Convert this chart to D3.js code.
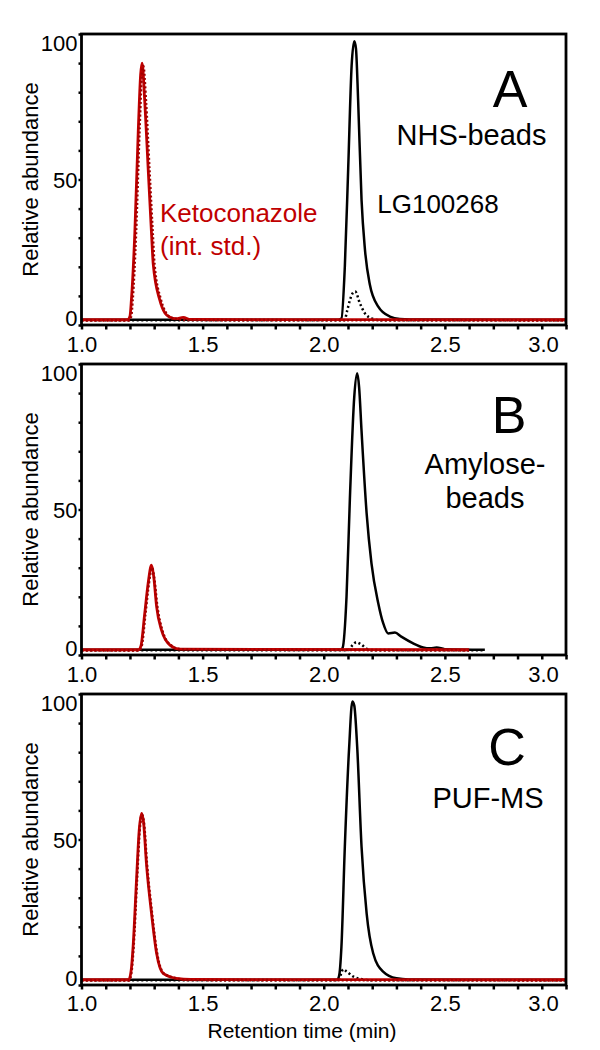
<!DOCTYPE html>
<html><head><meta charset="utf-8">
<script src="https://cdn.jsdelivr.net/npm/d3@7"></script>
<style>body{margin:0;background:#fff}text{font-family:Arial,"Liberation Sans",sans-serif}</style>
</head><body>
<script>
// ---------- data ----------
const xMinorTicks = d3.range(0, 21).map(i => +(1 + i * 0.1).toFixed(1));
const xTickValues = [1.0, 1.5, 2.0, 2.5, 3.0];
const xTickLabels = ["1.0", "1.5", "2.0", "2.5", "3.0"];
const yMinorTicks = [0, 10, 20, 30, 40, 50, 60, 70, 80, 90, 100];
const yTickValues = [0, 50, 100];
const yTickLabels = ["0", "50", "100"];
const panelLetters = ["A", "B", "C"];
const panelNames = [["NHS-beads"], ["Amylose-", "beads"], ["PUF-MS"]];

// Panel A traces [time (min), relative abundance]
const aLgSolid = [[1.0,1.8],[2.06,1.8],[2.073,2.2],[2.087,20],[2.101,54],[2.115,89],[2.126,97.5],[2.133,95],[2.142,77],[2.156,43],[2.17,26],[2.19,14],[2.225,6.3],[2.273,2.9],[2.314,2.1],[2.4,1.9],[3.0,1.8]];
const aLgDotted = [[1.0,1.6],[2.085,1.6],[2.097,5],[2.108,8.6],[2.122,11.2],[2.13,11.5],[2.149,7.5],[2.17,4],[2.197,2.3],[2.24,1.6],[3.0,1.6]];
const aKetoSolid = [[1.0,1.8],[1.19,1.8],[1.2,3],[1.206,8.6],[1.22,31.5],[1.234,66],[1.244,86],[1.25,90],[1.261,77],[1.275,54],[1.289,31.5],[1.296,21],[1.323,8.6],[1.345,4],[1.365,2.7],[1.39,2.2],[1.42,2.6],[1.45,1.9],[3.0,1.8]];
const aKetoDotted = [[1.0,1.6],[1.195,1.6],[1.205,3],[1.211,8.6],[1.225,31.5],[1.239,66],[1.249,86],[1.255,89],[1.266,77],[1.28,54],[1.294,31.5],[1.301,21],[1.328,8.6],[1.35,4],[1.37,2.5],[1.4,2],[1.45,1.7],[3.0,1.6]];

// Panel B traces
const bLgSolid = [[1.0,1.8],[2.07,1.8],[2.078,2.5],[2.094,20],[2.108,54],[2.126,88.8],[2.138,96.8],[2.146,92],[2.156,77],[2.177,48.7],[2.197,31.5],[2.225,17.8],[2.245,11],[2.266,7.4],[2.294,7.7],[2.32,6.3],[2.369,4],[2.41,2.6],[2.44,2.3],[2.466,2.6],[2.5,2],[2.665,1.8]];
const bLgDotted = [[1.0,1.6],[2.1,1.6],[2.12,3.5],[2.135,4.4],[2.155,3.6],[2.18,2],[2.2,1.6],[2.665,1.6]];
const bKetoSolid = [[1.0,1.8],[1.235,1.8],[1.245,3],[1.261,14.3],[1.275,24.6],[1.289,30.9],[1.298,27],[1.31,16.6],[1.33,8.6],[1.365,3.4],[1.406,2],[2.6,1.8]];
const bKetoDotted = [[1.0,1.6],[1.238,1.6],[1.248,3],[1.264,14.3],[1.278,24.6],[1.291,30],[1.3,26.5],[1.313,16.6],[1.333,8.6],[1.368,3.4],[1.41,2],[2.6,1.6]];

// Panel C traces
const cLgSolid = [[1.0,1.8],[2.055,1.8],[2.063,3],[2.073,13.2],[2.087,47.5],[2.105,81.9],[2.118,97.4],[2.126,96],[2.138,81.9],[2.156,47.5],[2.177,24.6],[2.204,10.9],[2.245,4.6],[2.3,2.3],[2.35,1.9],[3.0,1.8]];
const cLgDotted = [[1.0,1.6],[2.062,1.6],[2.072,4],[2.08,5.4],[2.095,4.6],[2.12,3],[2.16,2],[2.2,1.6],[3.0,1.6]];
const cKetoSolid = [[1.0,1.8],[1.195,1.8],[1.205,5],[1.213,13.2],[1.227,36],[1.238,53],[1.248,59],[1.256,56],[1.268,41.8],[1.289,24.6],[1.31,10.9],[1.337,4],[1.392,2.3],[1.45,1.9],[3.0,1.8]];
const cKetoDotted = [[1.0,1.6],[1.197,1.6],[1.207,5],[1.215,13.2],[1.229,36],[1.24,53],[1.25,58.5],[1.258,55.5],[1.27,41.8],[1.291,24.6],[1.312,10.9],[1.339,4],[1.395,2.2],[1.45,1.7],[3.0,1.6]];

const panelTraces = [
  [aLgSolid, aLgDotted, aKetoSolid, aKetoDotted],
  [bLgSolid, bLgDotted, bKetoSolid, bKetoDotted],
  [cLgSolid, cLgDotted, cKetoSolid, cKetoDotted]
];

// ---------- layout ----------
const W = 600, H = 1050;
const RED = "#c00000";
const left = 81.5, right = 566;
const panelTops = [34, 364, 694];
const panelH = 291;
const xLabelPad = [11, 11, 10];
const svg = d3.select("body").append("svg").attr("width", W).attr("height", H);
const x = d3.scaleLinear().domain([1.0, 3.0]).range([left, right]);

const traceStyles = [
  {color: "#000", width: 2.5, dash: null},
  {color: "#000", width: 2.5, dash: "2,2.6"},
  {color: RED, width: 2.8, dash: null},
  {color: "#a00000", width: 2.6, dash: "2,2.2"}
];

const nameLayout = [
  {letter: [510, 73], names: [[471.5, 111]]},
  {letter: [509, 69], names: [[485, 110], [485, 144]]},
  {letter: [507, 71], names: [[488, 114]]}
];

panelTops.forEach((top, pi) => {
  const bottom = top + panelH;
  const y = d3.scaleLinear().domain([0, 100]).range([bottom, top]);
  const g = svg.append("g");

  // traces
  const line = d3.line().x(d => x(d[0])).y(d => y(d[1])).curve(d3.curveMonotoneX);
  panelTraces[pi].forEach((tr, ti) => {
    const s = traceStyles[ti];
    g.append("path").datum(tr).attr("d", line)
      .attr("fill", "none").attr("stroke", s.color).attr("stroke-width", s.width)
      .attr("stroke-linejoin", "round")
      .attr("stroke-dasharray", s.dash);
  });

  // frame
  g.append("rect").attr("x", left).attr("y", top).attr("width", right - left).attr("height", bottom - top)
    .attr("fill", "none").attr("stroke", "#000").attr("stroke-width", 2.8);

  // y axis minor ticks
  const yAx = g.append("g").attr("transform", `translate(${left},0)`)
    .call(d3.axisLeft(y).tickValues(yMinorTicks).tickSize(3).tickFormat(""));
  yAx.select(".domain").remove();
  yAx.selectAll("line").attr("stroke-width", 2.5);
  const yLab = g.append("g").attr("transform", `translate(${left},0)`)
    .call(d3.axisLeft(y).tickValues(yTickValues).tickSize(0).tickPadding(4)
      .tickFormat((d, i) => yTickLabels[i]));
  yLab.select(".domain").remove();
  yLab.selectAll("text").attr("font-size", 22).attr("fill", "#000")
    .attr("font-family", "Arial, 'Liberation Sans', sans-serif")
    .attr("dy", d => d === 100 ? "0.75em" : (d === 0 ? "0em" : "0.36em"));

  // x axis minor ticks
  const xAx = g.append("g").attr("transform", `translate(0,${bottom})`)
    .call(d3.axisBottom(x).tickValues(xMinorTicks).tickSize(4.5).tickFormat(""));
  xAx.select(".domain").remove();
  xAx.selectAll("line").attr("stroke-width", 2.5);
  const xLab = g.append("g").attr("transform", `translate(0,${bottom})`)
    .call(d3.axisBottom(x).tickValues(xTickValues).tickSize(0).tickPadding(xLabelPad[pi])
      .tickFormat((d, i) => xTickLabels[i]));
  xLab.select(".domain").remove();
  xLab.selectAll("text").attr("font-size", 22).attr("fill", "#000")
    .attr("font-family", "Arial, 'Liberation Sans', sans-serif")
    .attr("dx", d => d === 3.0 ? -23 : 0);

  // y label
  g.append("text").attr("transform", `translate(38,${(top + bottom) / 2}) rotate(-90)`)
    .attr("text-anchor", "middle").attr("font-size", 22).text("Relative abundance");

  // panel letter and name
  const nl = nameLayout[pi];
  g.append("text").attr("x", nl.letter[0]).attr("y", top + nl.letter[1])
    .attr("text-anchor", "middle").attr("font-size", 52).text(panelLetters[pi]);
  panelNames[pi].forEach((nm, k) => {
    g.append("text").attr("x", nl.names[k][0]).attr("y", top + nl.names[k][1])
      .attr("text-anchor", "middle").attr("font-size", 29).text(nm);
  });

  if (pi === 0) {
    g.append("text").attr("x", 438).attr("y", top + 179).attr("text-anchor", "middle")
      .attr("font-size", 26).text("LG100268");
    g.append("text").attr("x", 160).attr("y", top + 188).attr("font-size", 26)
      .attr("fill", RED).text("Ketoconazole");
    g.append("text").attr("x", 160).attr("y", top + 221).attr("font-size", 26)
      .attr("fill", RED).text("(int. std.)");
  }
});

svg.append("text").attr("x", 302).attr("y", 1038).attr("text-anchor", "middle")
  .attr("font-size", 21).text("Retention time (min)");
</script>
</body></html>
